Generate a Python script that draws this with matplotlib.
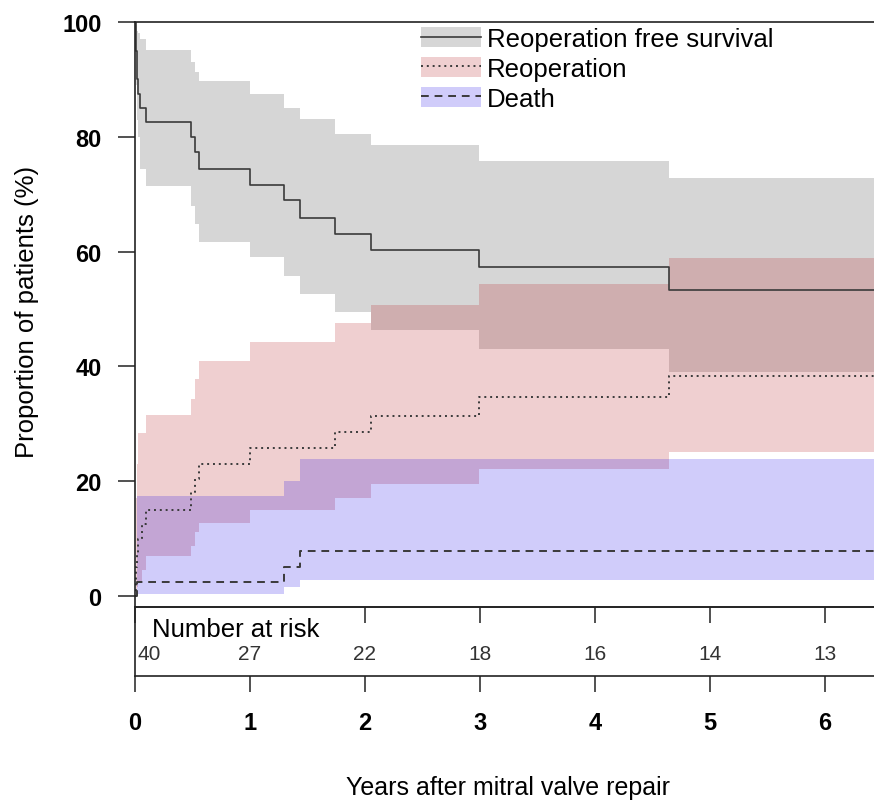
import numpy as np
import matplotlib.pyplot as plt
from matplotlib.patches import Patch
from matplotlib.lines import Line2D

plt.rcParams['font.family'] = ['Liberation Sans', 'DejaVu Sans']

# Reoperation free survival (Kaplan-Meier) with 95% CI
surv_t = [0, 0.005, 0.01, 0.015, 0.02, 0.03, 0.04, 0.10, 0.49, 0.52, 0.56,
          1.00, 1.30, 1.44, 1.74, 2.05, 2.99, 4.65]
surv = [100, 97.5, 95.0, 92.5, 90.0, 87.5, 85.0, 82.6, 80.0, 77.3, 74.4,
        71.6, 69.0, 65.9, 63.1, 60.3, 57.3, 53.3]
surv_hi = [100, 100, 99.5, 99.0, 98.5, 98.0, 97.0, 95.1, 93.0, 91.3, 89.7,
           87.5, 85.1, 83.1, 80.5, 78.5, 75.7, 72.9]
surv_lo = [100, 93.0, 89.0, 86.0, 83.0, 80.0, 74.4, 71.4, 68.0, 64.8, 61.7,
           59.0, 55.7, 52.6, 49.5, 46.3, 43.0, 39.0]

# Cumulative incidence of reoperation
reop_t = [0, 0.005, 0.01, 0.02, 0.03, 0.06, 0.10, 0.49, 0.52, 0.56,
          1.00, 1.74, 2.05, 2.99, 4.65]
reop = [0, 2.5, 5.0, 7.5, 10.0, 12.5, 15.0, 18.1, 20.4, 23.0,
        25.8, 28.6, 31.4, 34.7, 38.4]
reop_hi = [0, 12.0, 17.0, 23.0, 28.4, 28.4, 31.5, 34.3, 37.8, 40.9,
           44.2, 47.5, 50.7, 54.4, 58.9]
reop_lo = [0, 0.3, 0.8, 1.6, 2.6, 4.5, 7.0, 8.7, 11.1, 12.7,
           14.9, 17.1, 19.5, 22.1, 25.1]

# Cumulative incidence of death
death_t = [0, 0.02, 1.30, 1.44]
death = [0, 2.5, 5.1, 7.9]
death_hi = [0, 17.4, 20.1, 23.9]
death_lo = [0, 0.3, 1.5, 2.7]

# Number at risk
risk_years = [0, 1, 2, 3, 4, 5, 6]
risk_n = [40, 27, 22, 18, 16, 14, 13]

T_END = 6.43

gray_fc = (0.5, 0.5, 0.5, 0.32)
pink_fc = (0.70, 0.06, 0.08, 0.2)
blue_fc = (0.08, 0.0, 0.90, 0.2)
line_c = '#3a3a3a'


def extend(t, *ys):
    # carry last value of each step function out to the right edge
    out = [np.append(t, T_END)]
    for y in ys:
        out.append(np.append(y, y[-1]))
    return out


fig = plt.figure(figsize=(8.74, 8.03), dpi=100)
ax = fig.add_axes([135 / 874, 195 / 803, 739 / 874, 585 / 803])
risk = fig.add_axes([135 / 874, 126 / 803, 739 / 874, 69 / 803])

# bands
t, lo, hi = extend(surv_t, surv_lo, surv_hi)
ax.fill_between(t, lo, hi, step='post', color=gray_fc, lw=0)
t, lo, hi = extend(reop_t, reop_lo, reop_hi)
ax.fill_between(t, lo, hi, step='post', color=pink_fc, lw=0)
t, lo, hi = extend(death_t, death_lo, death_hi)
ax.fill_between(t, lo, hi, step='post', color=blue_fc, lw=0)

# estimates
t, y = extend(surv_t, surv)
ax.step(t, y, where='post', color=line_c, lw=1.2, ls='-')
t, y = extend(reop_t, reop)
ax.step(t, y, where='post', color=line_c, lw=1.4, ls=(0, (1, 2)))
t, y = extend(death_t, death)
ax.step(t, y, where='post', color=line_c, lw=1.4, ls=(0, (4, 3)))

ax.set_xlim(0, T_END)
ax.set_ylim(-1.92, 100)
ax.set_yticks([0, 20, 40, 60, 80, 100])
ax.set_xticks([0, 2, 3, 4, 5, 6])
ax.tick_params(axis='y', length=12, width=1.1, pad=12, labelsize=17, color='#222')
ax.tick_params(axis='x', length=11.5, width=1.1, labelbottom=False, color='#222')
for lab in ax.get_yticklabels():
    lab.set_fontweight('bold')
ax.spines['right'].set_visible(False)
for s in ['left', 'top', 'bottom']:
    ax.spines[s].set_linewidth(1.2)
    ax.spines[s].set_color('#222')

handles = [
    (Patch(fc=gray_fc, lw=0), Line2D([], [], color=line_c, lw=1.2)),
    (Patch(fc=pink_fc, lw=0), Line2D([], [], color=line_c, lw=1.4, ls=(0, (1, 2)))),
    (Patch(fc=blue_fc, lw=0), Line2D([], [], color=line_c, lw=1.4, ls=(0, (4, 3)))),
]
ax.legend(handles, ['Reoperation free survival', 'Reoperation', 'Death'],
          loc='upper left', bbox_to_anchor=(421 / 874, 775 / 803),
          bbox_transform=fig.transFigure, frameon=False, fontsize=18.5,
          borderpad=0, borderaxespad=0, handletextpad=0.2,
          handlelength=2.35, handleheight=0.85, labelspacing=0.22)

# number at risk table
risk.set_xlim(0, T_END)
risk.set_ylim(0, 1)
risk.set_yticks([])
risk.set_xticks(risk_years)
risk.set_xticklabels([str(v) for v in risk_years], fontweight='bold')
risk.tick_params(axis='x', length=11.5, width=1.1, pad=14, labelsize=17, color='#222')
risk.spines['right'].set_visible(False)
for s in ['left', 'top', 'bottom']:
    risk.spines[s].set_linewidth(1.2)
    risk.spines[s].set_color('#222')
risk.patch.set_alpha(0)
risk.text(0.15, 0.68, 'Number at risk', fontsize=18.5, va='center', ha='left')
for x, n in zip(risk_years, risk_n):
    if x == 0:
        risk.text(0.02, 0.32, str(n), fontsize=15, va='center', ha='left', color='#333')
    else:
        risk.text(x, 0.32, str(n), fontsize=15, va='center', ha='center', color='#333')

fig.text(27 / 874, (803 - 312) / 803, 'Proportion of patients (%)', rotation=90,
         fontsize=18.5, va='center', ha='center')
fig.text(508 / 874, (803 - 788) / 803, 'Years after mitral valve repair',
         fontsize=18, va='center', ha='center')

fig.savefig('out.png', dpi=100)
